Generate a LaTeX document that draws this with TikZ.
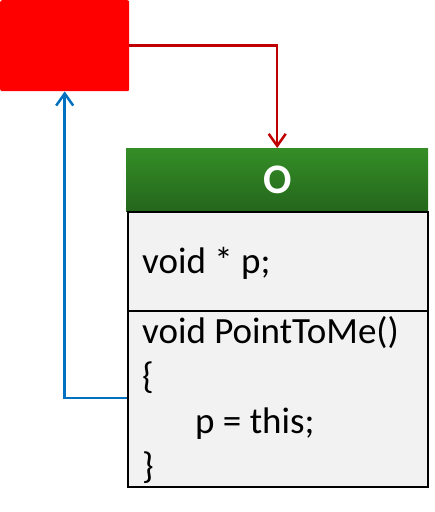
\documentclass[tikz,border=0pt]{standalone}
\usepackage{fontspec}
\setmainfont{Carlito}
\usetikzlibrary{arrows.meta}
\definecolor{redbox}{RGB}{255,0,0}
\definecolor{redline}{RGB}{192,0,0}
\definecolor{blueline}{RGB}{0,112,192}
\definecolor{headtop}{RGB}{52,142,38}
\definecolor{headbot}{RGB}{36,102,28}
\definecolor{bodyfill}{RGB}{242,242,242}
\tikzset{
  barb/.style={-{Straight Barb[length=12pt,width=17pt,line width=2.5pt]}},
  conn/.style={line width=2.5pt, barb},
  codetext/.style={anchor=base west, inner sep=0pt, font=\fontsize{37}{45}\selectfont},
}
\begin{document}
\begin{tikzpicture}[x=1pt,y=-1pt]
\useasboundingbox (0,0) rectangle (435,512);
% red box
\node[fill=redbox, rounded corners=2pt, minimum width=129pt, minimum height=91pt, inner sep=0pt, anchor=north west] (red) at (0,0) {};
% header
\node[top color=headtop, bottom color=headbot, minimum width=302pt, minimum height=63pt, inner sep=0pt, anchor=north west,
      text=white, font=\fontsize{42}{42}\selectfont\bfseries] (head) at (126,148) {O};
% body
\node[fill=bodyfill, draw=black, line width=2pt, minimum width=300pt, minimum height=275pt, inner sep=0pt, anchor=north west] (body) at (127,211) {};
\coordinate (sepl) at (127,311);
\coordinate (sepr) at (427,311);
\draw[line width=2pt] (sepl) -- (sepr);
% texts
\node[codetext] (t1) at (142,273) {void * p;};
\node[codetext] (t2) at (142,343) {void PointToMe()};
\node[codetext] (t3) at (142,388) {\{};
\node[codetext] (t4) at (195,433) {p = this;};
\node[codetext] (t5) at (142,478) {\}};
% connectors
\draw[conn, draw=redline] (red.east) -| (head.north);
\coordinate (bstart) at (127,398);
\draw[conn, draw=blueline] (bstart) -| (red.south);
\end{tikzpicture}
\end{document}
